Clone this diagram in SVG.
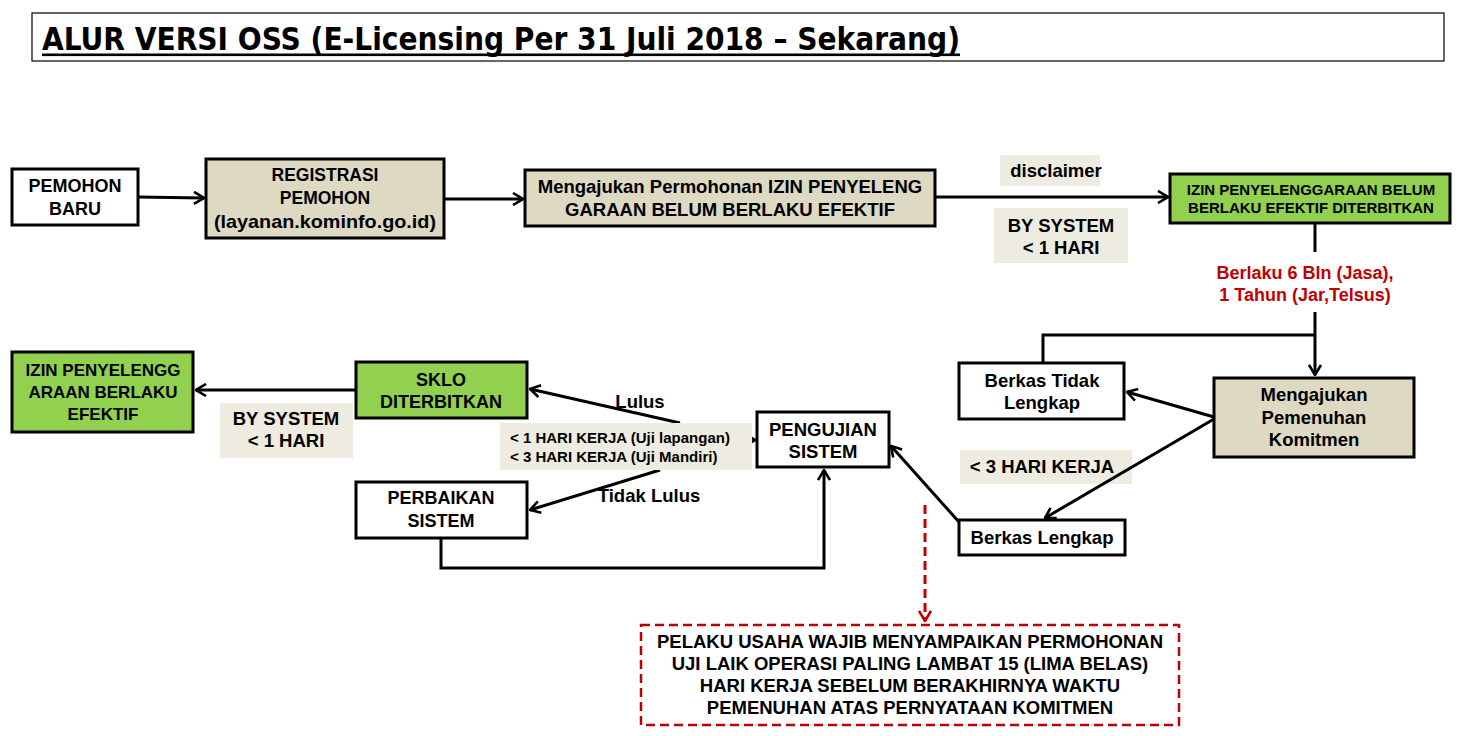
<svg xmlns="http://www.w3.org/2000/svg" width="1470" height="736" viewBox="0 0 1470 736">
<style>
text{font-family:"Liberation Sans",Arial,sans-serif;font-weight:bold;fill:#000;text-anchor:middle}
.box{stroke:#000;stroke-width:3}
.w{fill:#fff}
.tan{fill:#ddd9c3}
.grn{fill:#92d050}
.lbl{fill:#eeece1}
.t17{font-size:17px}
.t18{font-size:18.5px}
.t15{font-size:15px}
.con{fill:none;stroke:#000;stroke-width:3}
</style>
<defs>
<marker id="ah" viewBox="0 0 12 14" markerUnits="userSpaceOnUse" markerWidth="12" markerHeight="14" refX="11" refY="7" orient="auto">
<path d="M1,1 L11,7 L1,13" fill="none" stroke="#000" stroke-width="2.6"/>
</marker>
<marker id="ahr" viewBox="0 0 12 14" markerUnits="userSpaceOnUse" markerWidth="12" markerHeight="14" refX="11" refY="7" orient="auto">
<path d="M1,1 L11,7 L1,13" fill="none" stroke="#c00000" stroke-width="2.6"/>
</marker>
</defs>
<rect width="1470" height="736" fill="#fff"/>

<g id="title">
<rect x="32" y="13" width="1412" height="48" fill="#fff" stroke="#000" stroke-width="1.2"/>
<text x="42" y="50" style="font-family:'DejaVu Sans Condensed','DejaVu Sans',sans-serif;font-size:32px;text-anchor:start" textLength="918" lengthAdjust="spacingAndGlyphs">ALUR VERSI OSS (E-Licensing Per 31 Juli 2018 – Sekarang)</text>
<rect x="42" y="53.5" width="918" height="2.6" fill="#000"/>
</g>

<g id="labels">
<rect class="lbl" x="1000" y="155" width="100" height="31"/>
<text class="t18" x="1056" y="177">disclaimer</text>
<rect class="lbl" x="994" y="208" width="134" height="55"/>
<text class="t18" x="1061" y="232">BY SYSTEM</text>
<text class="t18" x="1061" y="254">&lt; 1 HARI</text>
<text x="1305" y="279" style="font-size:18px;fill:#c00000">Berlaku 6 Bln (Jasa),</text>
<text x="1305" y="301" style="font-size:18px;fill:#c00000">1 Tahun (Jar,Telsus)</text>
<rect class="lbl" x="960" y="450" width="172" height="34"/>
<text class="t18" x="1042" y="473">&lt; 3 HARI KERJA</text>
<rect class="lbl" x="220" y="403" width="133" height="55"/>
<text class="t18" x="286" y="425">BY SYSTEM</text>
<text class="t18" x="286" y="447">&lt; 1 HARI</text>
<text class="t18" x="640" y="408">Lulus</text>
<text class="t18" x="649" y="502">Tidak Lulus</text>
</g>

<g id="connectors">
<line class="con" x1="138" y1="197" x2="204" y2="198" marker-end="url(#ah)"/>
<line class="con" x1="444" y1="199" x2="523" y2="199" marker-end="url(#ah)"/>
<line class="con" x1="935" y1="197" x2="1168" y2="197" marker-end="url(#ah)"/>
<line class="con" x1="1315" y1="223" x2="1315" y2="252"/>
<line class="con" x1="1315" y1="312" x2="1315" y2="375" marker-end="url(#ah)"/>
<polyline class="con" points="1315,335 1043,335 1043,363"/>
<line class="con" x1="1214" y1="417" x2="1127" y2="392" marker-end="url(#ah)"/>
<line class="con" x1="1214" y1="419" x2="1045" y2="518" marker-end="url(#ah)"/>
<line class="con" x1="959" y1="522" x2="891" y2="446" marker-end="url(#ah)"/>
<line class="con" x1="680" y1="423" x2="530" y2="389" marker-end="url(#ah)"/>
<line class="con" x1="660" y1="470" x2="530" y2="510" marker-end="url(#ah)"/>
<line class="con" x1="740" y1="440" x2="755" y2="440" marker-end="url(#ah)"/>
<polyline class="con" points="441,538 441,568 824,568 824,470" marker-end="url(#ah)"/>
<line class="con" x1="356" y1="390" x2="196" y2="390" marker-end="url(#ah)"/>
<line x1="925" y1="505" x2="925" y2="621" stroke="#c00000" stroke-width="3" stroke-dasharray="9,5" marker-end="url(#ahr)"/>
</g>

<g id="uji-label">
<rect class="lbl" x="500" y="423" width="252" height="47"/>
<text class="t15" x="510" y="443" style="text-anchor:start">&lt; 1 HARI KERJA (Uji lapangan)</text>
<text class="t15" x="510" y="462" style="text-anchor:start">&lt; 3 HARI KERJA (Uji Mandiri)</text>
</g>

<g id="pemohon-baru">
<rect class="box w" x="12" y="169" width="126" height="56"/>
<text x="75" y="192" style="font-size:18px">PEMOHON</text>
<text x="75" y="215" style="font-size:18px">BARU</text>
</g>
<g id="registrasi">
<rect class="box tan" x="206" y="159" width="238" height="79"/>
<text x="325" y="181" style="font-size:17.5px">REGISTRASI</text>
<text x="325" y="204" style="font-size:17.5px">PEMOHON</text>
<text x="325" y="228" style="font-size:19px" textLength="222" lengthAdjust="spacingAndGlyphs">(layanan.kominfo.go.id)</text>
</g>
<g id="mengajukan-permohonan">
<rect class="box tan" x="525" y="170" width="410" height="56"/>
<text class="t18" x="730" y="193">Mengajukan Permohonan IZIN PENYELENG</text>
<text class="t18" x="730" y="216">GARAAN BELUM BERLAKU EFEKTIF</text>
</g>
<g id="izin-belum">
<rect class="box grn" x="1170" y="174" width="280" height="49"/>
<text class="t15" x="1311" y="195">IZIN PENYELENGGARAAN BELUM</text>
<text class="t15" x="1311" y="213">BERLAKU EFEKTIF DITERBITKAN</text>
</g>
<g id="berkas-tidak">
<rect class="box w" x="959" y="363" width="165" height="56"/>
<text class="t18" x="1042" y="387">Berkas Tidak</text>
<text class="t18" x="1042" y="409">Lengkap</text>
</g>
<g id="pemenuhan">
<rect class="box tan" x="1214" y="378" width="200" height="79"/>
<text class="t18" x="1314" y="401">Mengajukan</text>
<text class="t18" x="1314" y="424">Pemenuhan</text>
<text class="t18" x="1314" y="446">Komitmen</text>
</g>
<g id="berkas-lengkap">
<rect class="box w" x="959" y="520" width="166" height="35"/>
<text class="t18" x="1042" y="544">Berkas Lengkap</text>
</g>
<g id="pengujian">
<rect class="box w" x="757" y="412" width="132" height="55"/>
<text class="t18" x="823" y="436">PENGUJIAN</text>
<text class="t18" x="823" y="458">SISTEM</text>
</g>
<g id="sklo">
<rect class="box grn" x="356" y="362" width="171" height="56"/>
<text x="441" y="386" style="font-size:18px">SKLO</text>
<text x="441" y="408" style="font-size:18px">DITERBITKAN</text>
</g>
<g id="izin-efektif">
<rect class="box grn" x="12" y="352" width="181" height="80"/>
<text class="t17" x="103" y="376">IZIN PENYELENGG</text>
<text class="t17" x="103" y="398">ARAAN BERLAKU</text>
<text class="t17" x="103" y="420">EFEKTIF</text>
</g>
<g id="perbaikan">
<rect class="box w" x="356" y="482" width="171" height="56"/>
<text x="441" y="504" style="font-size:18px">PERBAIKAN</text>
<text x="441" y="527" style="font-size:18px">SISTEM</text>
</g>
<g id="catatan">
<rect x="641" y="625" width="538" height="100" fill="#fff" stroke="#c00000" stroke-width="2.5" stroke-dasharray="9,5"/>
<text class="t18" x="910" y="648">PELAKU USAHA WAJIB MENYAMPAIKAN PERMOHONAN</text>
<text class="t18" x="910" y="670">UJI LAIK OPERASI PALING LAMBAT 15 (LIMA BELAS)</text>
<text class="t18" x="910" y="692">HARI KERJA SEBELUM BERAKHIRNYA WAKTU</text>
<text class="t18" x="910" y="714">PEMENUHAN ATAS PERNYATAAN KOMITMEN</text>
</g>
</svg>
